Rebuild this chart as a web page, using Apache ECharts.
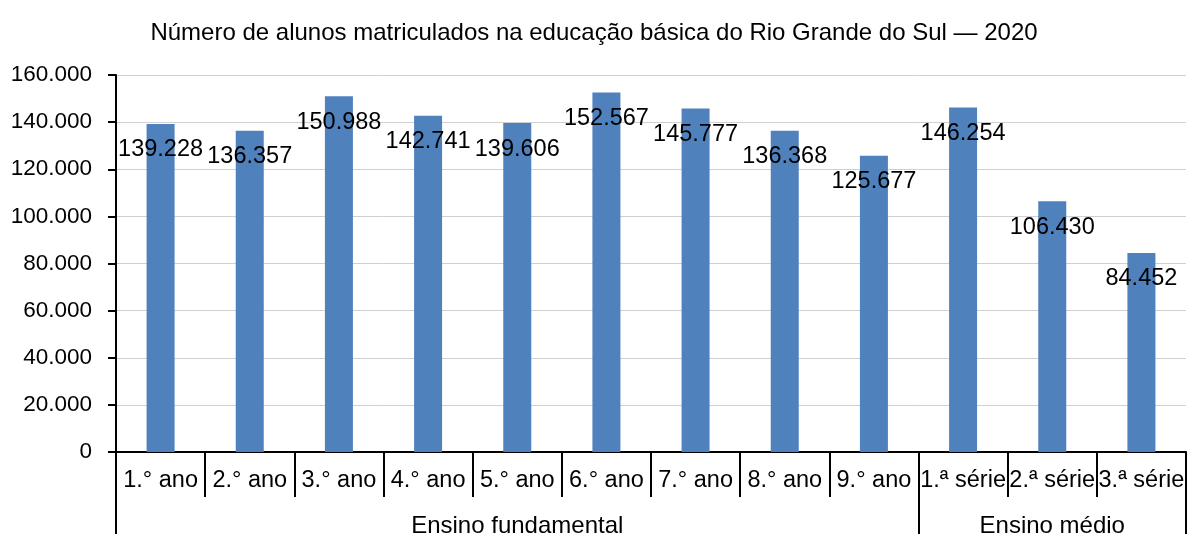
<!DOCTYPE html>
<html>
<head>
<meta charset="utf-8">
<title>Matrículas RS 2020</title>
<script src="https://cdn.jsdelivr.net/npm/echarts@6/dist/echarts.min.js"></script>
<style>
  html, body { margin: 0; padding: 0; background: #fff; }
  #main { width: 1188px; height: 534px; }
</style>
</head>
<body>
<div id="main"></div>
<script>
// dados do gráfico
var categorias = ["1.° ano", "2.° ano", "3.° ano", "4.° ano", "5.° ano", "6.° ano", "7.° ano", "8.° ano", "9.° ano", "1.ª série", "2.ª série", "3.ª série"];
var matriculas = [139228, 136357, 150988, 142741, 139606, 152567, 145777, 136368, 125677, 146254, 106430, 84452];
var grupos = ["Ensino fundamental", "Ensino médio"];
var tamanhoGrupos = [9, 3]; // quantas categorias em cada grupo
var ticksY = [0, 20000, 40000, 60000, 80000, 100000, 120000, 140000, 160000];

var fonte = "Liberation Sans, Arial, sans-serif";

// 139228 -> "139.228"
function formatarNumero(v) {
  return String(v).replace(/\B(?=(\d{3})+(?!\d))/g, ".");
}

// segundo nível do eixo: nome do grupo no meio de cada bloco
var rotulosGrupo = [];
var limitesGrupo = [];
var pos = 0;
grupos.forEach(function (g, i) {
  limitesGrupo.push(pos);
  for (var k = 0; k < tamanhoGrupos[i]; k++) {
    rotulosGrupo.push(k === Math.floor(tamanhoGrupos[i] / 2) ? g : "");
  }
  pos += tamanhoGrupos[i];
});

var chart = echarts.init(document.getElementById("main"));
chart.setOption({
  animation: false,
  textStyle: { fontFamily: fonte },
  title: {
    text: "Número de alunos matriculados na educação básica do Rio Grande do Sul — 2020",
    left: "center",
    top: 16,
    textStyle: { fontSize: 24, fontWeight: "normal", color: "#000", fontFamily: fonte }
  },
  grid: { left: 116, right: 2, top: 75, bottom: 82, containLabel: false, outerBoundsMode: "none" },
  yAxis: {
    type: "value",
    min: ticksY[0],
    max: ticksY[ticksY.length - 1],
    interval: 20000,
    axisLine: { show: true, lineStyle: { color: "#000", width: 2 } },
    axisTick: { show: true, length: 8, lineStyle: { color: "#000", width: 2 } },
    splitLine: { lineStyle: { color: "#d0d0d0", width: 1 } },
    axisLabel: {
      margin: 24,
      fontSize: 22.5,
      color: "#000",
      fontFamily: fonte,
      formatter: function (v) { return formatarNumero(v); }
    }
  },
  xAxis: [
    {
      type: "category",
      position: "bottom",
      data: categorias,
      boundaryGap: true,
      axisLine: { show: true, lineStyle: { color: "#000", width: 2 } },
      axisTick: { show: true, interval: 0, length: 45, lineStyle: { color: "#000", width: 2 } },
      axisLabel: { interval: 0, margin: 17, fontSize: 23.5, color: "#000", fontFamily: fonte }
    },
    {
      type: "category",
      position: "bottom",
      data: rotulosGrupo,
      boundaryGap: true,
      axisLine: { show: false },
      axisTick: {
        show: true,
        length: 82,
        interval: function (idx) { return limitesGrupo.indexOf(idx) >= 0; },
        lineStyle: { color: "#000", width: 2 }
      },
      axisLabel: { interval: 0, margin: 62, fontSize: 24, color: "#000", fontFamily: fonte }
    }
  ],
  series: [
    {
      name: "Matrículas",
      type: "bar",
      xAxisIndex: 0,
      barWidth: 28,
      itemStyle: { color: "#4f81bd" },
      label: {
        show: true,
        position: "insideTop",
        distance: 14,
        fontSize: 23.5,
        color: "#000",
        fontFamily: fonte,
        formatter: function (p) { return formatarNumero(p.value); }
      },
      data: matriculas
    }
  ]
});
</script>
</body>
</html>
